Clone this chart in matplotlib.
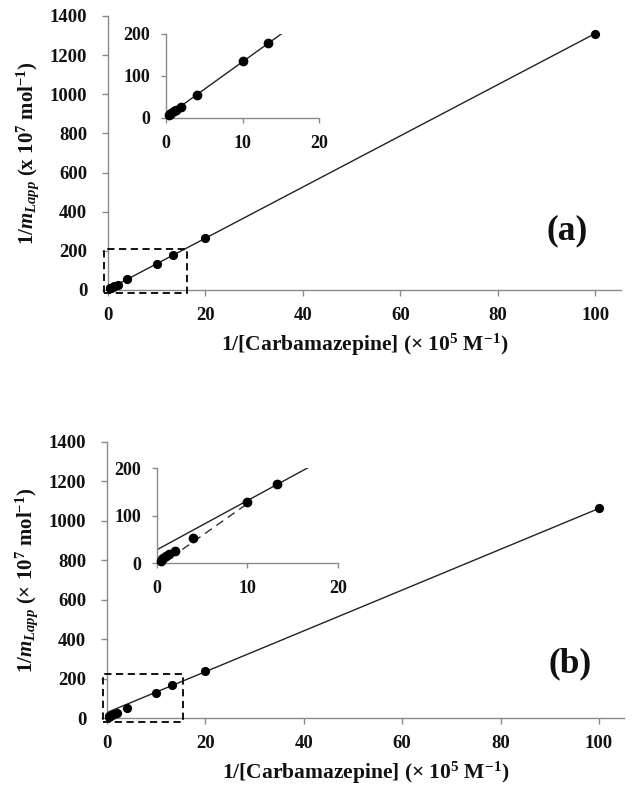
import matplotlib
matplotlib.use("Agg")
import matplotlib.pyplot as plt
from matplotlib.patches import Rectangle
import numpy as np

plt.rcParams['font.family'] = ['Liberation Serif', 'DejaVu Serif']
plt.rcParams['font.weight'] = 'bold'
plt.rcParams['mathtext.fontset'] = 'custom'
plt.rcParams['mathtext.rm'] = 'Liberation Serif:bold'
plt.rcParams['mathtext.it'] = 'Liberation Serif:italic:bold'
plt.rcParams['mathtext.bf'] = 'Liberation Serif:bold'

# ---- data ----
inv_conc = [0.4, 0.5, 0.67, 1.0, 1.33, 2.0, 4.0, 10.0, 13.3, 20.0, 100.0]
inv_m_a = [8, 10, 12, 16, 20, 27, 55, 135, 178, 265, 1310]
inv_m_b = [5, 8, 11, 15, 18, 25, 53, 128, 166, 238, 1065]

fit_a = (13.07, 3.0)      # slope, intercept
fit_b = (10.35, 28.0)
fit_b_dash = (13.4, -9.0)
dash_range_b = (2.8, 10.0)

main_xticks = [0, 20, 40, 60, 80, 100]
main_yticks = [0, 200, 400, 600, 800, 1000, 1200, 1400]
inset_xticks = [0, 10, 20]
inset_yticks = [0, 100, 200]

TXT = '#111111'
SPINE = '#8a8a8a'

fig = plt.figure(figsize=(6.34, 8.01), dpi=100)


def style(ax, fs, tl=4, xpad=4, ypad=4):
    for s in ['top', 'right']:
        ax.spines[s].set_visible(False)
    for s in ['left', 'bottom']:
        ax.spines[s].set_color(SPINE)
        ax.spines[s].set_linewidth(1.0)
    ax.tick_params(direction='out', length=tl, width=1.0, color=SPINE,
                   labelsize=fs, labelcolor=TXT)
    ax.tick_params(axis='x', pad=xpad)
    ax.tick_params(axis='y', pad=ypad)
    for lab in ax.get_xticklabels() + ax.get_yticklabels():
        lab.set_fontweight('bold')


def panel(rect, inset_rect, y, fit, xmax, ylab, letter, letter_y, box,
          inset_xmax_line, dashed=None):
    ax = fig.add_axes(rect)
    xs = np.array([0, 100.0])
    ax.plot(xs, fit[0] * xs + fit[1], color='#222222', lw=1.0, zorder=2)
    ax.plot(inv_conc, y, 'o', color='black', ms=5.6, zorder=3, clip_on=False)
    ax.set_xlim(0, xmax)
    ax.set_ylim(0, 1400)
    ax.set_xticks(main_xticks)
    ax.set_yticks(main_yticks)
    style(ax, 13.5, xpad=8, ypad=11)
    ax.set_xlabel(r"1/[Carbamazepine] (× 10$^{5}$ $\mathrm{M}^{-1}$)", fontsize=15.5,
                  fontweight='bold', color=TXT, labelpad=6)
    ax.set_ylabel(ylab, fontsize=15, fontweight='bold', color=TXT, labelpad=6)
    ax.text(0.895, letter_y, letter, transform=ax.transAxes,
            fontsize=25.5, fontweight='bold', color=TXT, ha='center', va='center')
    ax.add_patch(Rectangle((box[0], box[1]), box[2] - box[0], box[3] - box[1],
                           fill=False, ls=(0, (4, 2.5)), lw=1.3, ec='black',
                           clip_on=False, zorder=4))

    ai = fig.add_axes(inset_rect)
    xi = np.array([0, inset_xmax_line])
    ai.plot(xi, fit[0] * xi + fit[1], color='#222222', lw=1.0, zorder=2)
    if dashed is not None:
        xd = np.array(dash_range_b)
        ai.plot(xd, dashed[0] * xd + dashed[1], color='#333333', lw=1.0,
                ls=(0, (6, 4)), zorder=2)
    m = [i for i, v in enumerate(inv_conc) if v <= 20 and y[i] <= 200]
    ai.plot([inv_conc[i] for i in m], [y[i] for i in m], 'o', color='black',
            ms=6.0, zorder=3, clip_on=False)
    ai.set_xlim(0, 20)
    ai.set_ylim(0, 200)
    ai.set_xticks(inset_xticks)
    ai.set_yticks(inset_yticks)
    ai.patch.set_alpha(0)
    style(ai, 13, tl=3.5, xpad=9, ypad=8)
    return ax, ai


panel([0.1703, 0.6380, 0.8091, 0.3421], [0.262, 0.8527, 0.241, 0.1049],
      inv_m_a, fit_a, 105.3,
      r"1/$m_{Lapp}$ (x 10$^{7}$ mol$^{-1}$)", '(a)', 0.215,
      (-0.8, -15, 16.2, 210), 15.3)

panel([0.1688, 0.1036, 0.8155, 0.3446], [0.2476, 0.2971, 0.2855, 0.1186],
      inv_m_b, fit_b, 105.1,
      r"1/$m_{Lapp}$ (× 10$^{7}$ mol$^{-1}$)", '(b)', 0.196,
      (-0.8, -20, 15.4, 223), 16.9, dashed=fit_b_dash)

fig.savefig('out.png', dpi=100)
